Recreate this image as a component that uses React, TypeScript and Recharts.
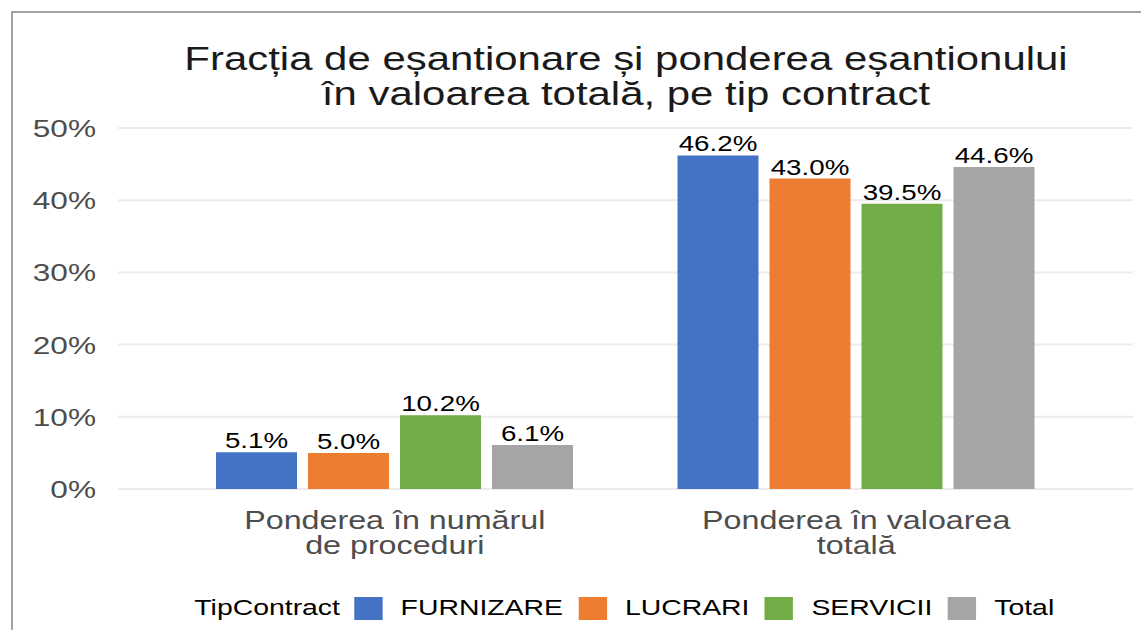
import { BarChart, Bar, XAxis, YAxis, CartesianGrid, LabelList } from "recharts";

const CATEGORIES = ["Ponderea în numărul\nde proceduri", "Ponderea în valoarea\ntotală"];
const FURNIZARE = [5.1, 46.2];
const LUCRARI = [5.0, 43.0];
const SERVICII = [10.2, 39.5];
const TOTAL = [6.1, 44.6];
const Y_TICKS = [0, 10, 20, 30, 40, 50];
const TITLE = ["Fracția de eșantionare și ponderea eșantionului", "în valoarea totală, pe tip contract"];
const LEGEND_TITLE = "TipContract";

const SERIES = [
  { key: "FURNIZARE", values: FURNIZARE, color: "#4472C4" },
  { key: "LUCRARI", values: LUCRARI, color: "#ED7D31" },
  { key: "SERVICII", values: SERVICII, color: "#70AD47" },
  { key: "Total", values: TOTAL, color: "#A5A5A5" },
];

const data = CATEGORIES.map((c, i) => {
  const row: any = { cat: c };
  SERIES.forEach((s) => (row[s.key] = s.values[i]));
  return row;
});

const FONT = "'Liberation Sans', Arial, sans-serif";
const SX = 1.29; // the reference is stretched horizontally

const SText = ({ x, y, anchor, size, fill, children }: any) => (
  <text
    transform={`translate(${x} ${y}) scale(${SX} 1)`}
    textAnchor={anchor}
    fontSize={size}
    fill={fill}
    fontFamily={FONT}
  >
    {children}
  </text>
);

const YTick = ({ x, y, payload }: any) => (
  <SText x={x} y={y + 9} anchor="end" size={24.5} fill="#4d4d4d">
    {payload.value}%
  </SText>
);

const XTick = ({ x, y, payload }: any) => {
  const lines = String(payload.value).split("\n");
  return (
    <g>
      {lines.map((l, i) => (
        <SText key={i} x={x} y={y + 32 + i * 25} anchor="middle" size={25} fill="#4d4d4d">
          {l}
        </SText>
      ))}
    </g>
  );
};

const BarLabel = ({ x, y, width, value }: any) => (
  <SText x={x + width / 2} y={y - 4} anchor="middle" size={21.5} fill="#000">
    {Number(value).toFixed(1)}%
  </SText>
);

export default function App() {
  return (
    <div style={{ position: "absolute", left: 0, top: 0, width: 1141, height: 630, background: "#fff", overflow: "hidden" }}>
      <div
        style={{
          position: "absolute",
          left: 11,
          top: 11,
          width: 1200,
          height: 700,
          borderLeft: "2px solid #a3a3a3",
          borderTop: "2px solid #a3a3a3",
        }}
      />
      <BarChart
        width={1141}
        height={630}
        data={data}
        margin={{ top: 128, right: 8, bottom: 71, left: 0 }}
        barGap={11}
        barCategoryGap={52}
      >
        <CartesianGrid vertical={false} stroke="#ebebeb" strokeWidth={2} />
        <XAxis
          dataKey="cat"
          height={70}
          axisLine={false}
          tickLine={false}
          padding={{ left: 46, right: 46 }}
          tick={<XTick />}
          interval={0}
        />
        <YAxis
          width={118}
          domain={[0, 50]}
          ticks={Y_TICKS}
          axisLine={false}
          tickLine={false}
          tickMargin={16}
          tick={<YTick />}
        />
        {SERIES.map((s) => (
          <Bar key={s.key} dataKey={s.key} fill={s.color} isAnimationActive={false}>
            <LabelList dataKey={s.key} content={<BarLabel />} />
          </Bar>
        ))}
      </BarChart>
      <div
        style={{
          position: "absolute",
          left: 626,
          top: 42,
          transform: `translateX(-50%) scaleX(${SX})`,
          textAlign: "center",
          fontFamily: FONT,
          fontSize: 32.5,
          lineHeight: "35px",
          color: "#1a1a1a",
          whiteSpace: "nowrap",
        }}
      >
        {TITLE.map((t, i) => (
          <div key={i}>{t}</div>
        ))}
      </div>
      <div
        style={{
          position: "absolute",
          left: 632,
          top: 595,
          transform: `translateX(-50%) scaleX(${SX})`,
          display: "flex",
          alignItems: "center",
          fontFamily: FONT,
          fontSize: 22,
          color: "#000",
          whiteSpace: "nowrap",
        }}
      >
        <span style={{ marginRight: 11 }}>{LEGEND_TITLE}</span>
        {SERIES.map((s) => (
          <span key={s.key} style={{ display: "flex", alignItems: "center", marginRight: 12 }}>
            <span style={{ width: 22, height: 23, background: s.color, display: "inline-block", marginRight: 14 }} />
            <span>{s.key}</span>
          </span>
        ))}
      </div>
    </div>
  );
}
